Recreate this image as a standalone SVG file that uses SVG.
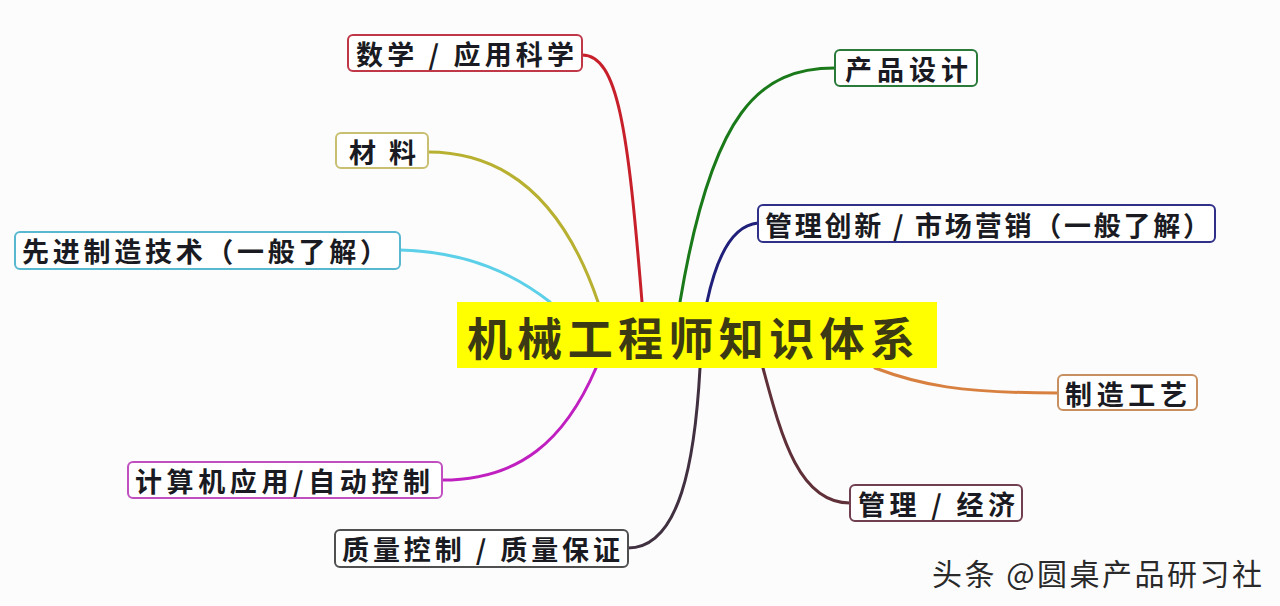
<svg xmlns="http://www.w3.org/2000/svg" width="1280" height="606" viewBox="0 0 1280 606">
<style>
.box{fill:#ffffff;stroke-width:2}
.t{font-family:"Noto Sans CJK SC","Noto Sans CJK TC",sans-serif;font-size:27px;font-weight:bold;fill:#1a1a22;dominant-baseline:central}
.c{fill:none;stroke-width:3;stroke-linecap:round}
</style>
<rect width="1280" height="606" fill="#fcfcfc"/>
<g id="connectors">
<path class="c" stroke="#c8202a" d="M582,55 C618,55 628,130 642,302"/>
<path class="c" stroke="#b8b030" d="M428,152 C520,152 570,220 598,302"/>
<path class="c" stroke="#5cd0e8" d="M400,250 C470,252 515,275 550,302"/>
<path class="c" stroke="#1a7a1a" d="M835,68 C760,68 712,110 680,302"/>
<path class="c" stroke="#20207a" d="M758,223 C735,225 718,250 707,302"/>
<path class="c" stroke="#d88040" d="M875,368 C920,385 960,393 1058,393"/>
<path class="c" stroke="#603038" d="M763,368 C782,440 800,503 850,503"/>
<path class="c" stroke="#403040" d="M700,368 C695,460 680,548 628,548"/>
<path class="c" stroke="#c020c0" d="M596,368 C565,440 520,480 442,480"/>
</g>
<g id="center">
<rect x="457" y="302" width="480" height="66" fill="#ffff00"/>
<text x="467" y="336" textLength="448" lengthAdjust="spacing" style="font-family:'Noto Sans CJK SC',sans-serif;font-size:45px;font-weight:bold;fill:#3c3a14;dominant-baseline:central">机械工程师知识体系</text>
</g>
<g id="n-math">
<rect class="box" x="348" y="35" width="234" height="36" rx="5" stroke="#c03848"/>
<text class="t" x="356" y="53" textLength="218" lengthAdjust="spacing">数学 / 应用科学</text>
</g>
<g id="n-material">
<rect class="box" x="336" y="133" width="92" height="35" rx="5" stroke="#c8c070"/>
<text class="t" x="349" y="151" textLength="67" lengthAdjust="spacing">材料</text>
</g>
<g id="n-advanced">
<rect class="box" x="15" y="232" width="385" height="37" rx="5" stroke="#58b8d0"/>
<text class="t" x="22" y="250" textLength="365" lengthAdjust="spacing">先进制造技术（一般了解）</text>
</g>
<g id="n-design">
<rect class="box" x="835" y="50" width="142" height="36" rx="5" stroke="#2a7a3a"/>
<text class="t" x="845" y="68" textLength="123" lengthAdjust="spacing">产品设计</text>
</g>
<g id="n-innovation">
<rect class="box" x="758" y="205" width="457" height="37" rx="5" stroke="#303088"/>
<text class="t" x="765" y="224" textLength="445" lengthAdjust="spacing">管理创新 / 市场营销（一般了解）</text>
</g>
<g id="n-process">
<rect class="box" x="1058" y="375" width="139" height="35" rx="5" stroke="#c89060"/>
<text class="t" x="1065" y="393" textLength="122" lengthAdjust="spacing">制造工艺</text>
</g>
<g id="n-economy">
<rect class="box" x="850" y="485" width="172" height="36" rx="5" stroke="#704050"/>
<text class="t" x="858" y="503" textLength="157" lengthAdjust="spacing">管理 / 经济</text>
</g>
<g id="n-quality">
<rect class="box" x="335" y="530" width="293" height="37" rx="5" stroke="#505050"/>
<text class="t" x="342" y="548" textLength="278" lengthAdjust="spacing">质量控制 / 质量保证</text>
</g>
<g id="n-computer">
<rect class="box" x="128" y="462" width="314" height="36" rx="5" stroke="#c050c0"/>
<text class="t" x="135" y="480" textLength="295" lengthAdjust="spacing">计算机应用/自动控制</text>
</g>
<text x="932" y="572" textLength="330" lengthAdjust="spacing" style="font-family:'Noto Sans CJK SC',sans-serif;font-size:30px;fill:#2a2a2a;stroke:#ffffff;stroke-width:1;paint-order:stroke;dominant-baseline:central">头条 @圆桌产品研习社</text>
</svg>
